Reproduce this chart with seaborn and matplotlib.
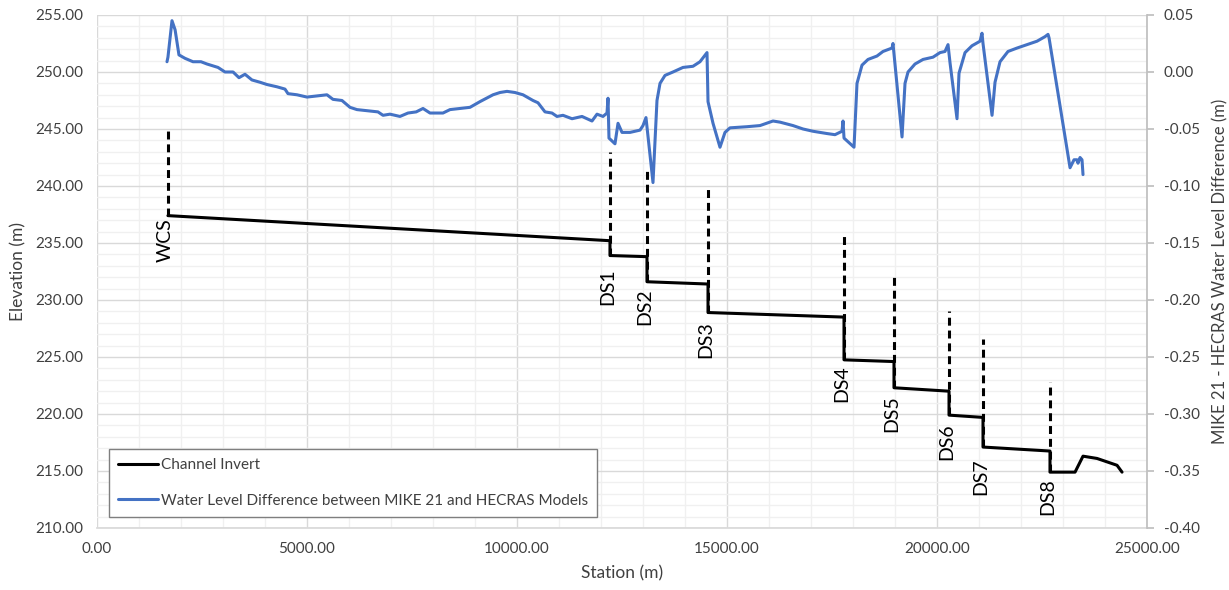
import numpy as np
import pandas as pd
import seaborn as sns
import matplotlib.pyplot as plt
from matplotlib.ticker import MultipleLocator, FormatStrFormatter

sns.set_theme(style='white')
plt.rcParams['font.family'] = ['Lato', 'DejaVu Sans']

# Channel invert profile (station m, elevation m)
invert_station = [1690, 12214, 12214, 13095, 13095, 14548, 14548, 17786, 17786,
                  18976, 18976, 20286, 20286, 21095, 21095, 22690, 22690, 23286,
                  23476, 23810, 24048, 24286, 24405]
invert_elev = [237.4, 235.2, 233.9, 233.8, 231.6, 231.4, 228.9, 228.5, 224.75,
               224.6, 222.3, 222.0, 219.9, 219.7, 217.1, 216.75, 214.9, 214.9,
               216.3, 216.1, 215.8, 215.5, 214.9]

# Structures
struct_names = ['WCS', 'DS1', 'DS2', 'DS3', 'DS4', 'DS5', 'DS6', 'DS7', 'DS8']
struct_station = [1690, 12214, 13095, 14548, 17786, 18976, 20286, 21095, 22690]
struct_top = [245.0, 243.0, 241.6, 240.1, 236.0, 232.0, 229.0, 226.6, 222.8]
struct_bottom = [237.4, 233.9, 231.6, 228.9, 224.75, 222.3, 219.9, 217.1, 214.9]
label_elev = [237.2, 232.8, 231.05, 228.1, 224.3, 221.6, 219.2, 216.1, 214.4]

# Water level difference MIKE 21 - HECRAS (m)
wl_station = [1667, 1690, 1786, 1860, 1952, 2095, 2286, 2476, 2619, 2881, 3048,
              3240, 3381, 3524, 3690, 3881, 4048, 4286, 4476, 4548, 4762, 5000,
              5238, 5476, 5619, 5833, 6024, 6190, 6429, 6690, 6810, 6976, 7214,
              7405, 7600, 7762, 7929, 8238, 8405, 8643, 8881, 9119, 9429, 9595,
              9762, 9952, 10143, 10381, 10500, 10667, 10833, 10952, 11095, 11310,
              11548, 11786, 11905, 12048, 12143, 12167, 12190, 12333, 12405,
              12500, 12690, 12929, 13000, 13071, 13238, 13333, 13405, 13524,
              13714, 13952, 14190, 14357, 14524, 14548, 14667, 14833, 14952,
              15071, 15476, 15786, 16095, 16262, 16571, 16810, 17048, 17381,
              17571, 17738, 17762, 17786, 18024, 18095, 18214, 18357, 18571,
              18714, 18929, 18952, 19167, 19238, 19310, 19476, 19667, 19905,
              20071, 20190, 20262, 20310, 20476, 20524, 20667, 20833, 21024,
              21071, 21095, 21310, 21381, 21500, 21690, 21905, 22143, 22381,
              22571, 22643, 22667, 23167, 23262, 23333, 23357, 23405, 23452,
              23476]
wl_diff = [0.009, 0.013, 0.045, 0.037, 0.015, 0.012, 0.009, 0.009, 0.007, 0.004,
           0.000, 0.000, -0.005, -0.002, -0.007, -0.009, -0.011, -0.013, -0.015,
           -0.019, -0.020, -0.022, -0.021, -0.020, -0.024, -0.025, -0.031, -0.033,
           -0.034, -0.035, -0.038, -0.037, -0.039, -0.036, -0.035, -0.032, -0.036,
           -0.036, -0.033, -0.032, -0.031, -0.026, -0.020, -0.018, -0.017, -0.018,
           -0.020, -0.025, -0.027, -0.035, -0.036, -0.039, -0.038, -0.041, -0.039,
           -0.043, -0.037, -0.039, -0.036, -0.023, -0.058, -0.063, -0.045, -0.053,
           -0.053, -0.051, -0.047, -0.040, -0.097, -0.025, -0.010, -0.003, 0.000,
           0.004, 0.005, 0.009, 0.017, -0.026, -0.045, -0.066, -0.053, -0.049,
           -0.048, -0.047, -0.043, -0.044, -0.047, -0.050, -0.052, -0.054, -0.055,
           -0.052, -0.043, -0.058, -0.066, -0.010, 0.006, 0.011, 0.014, 0.018,
           0.021, 0.025, -0.057, -0.010, 0.000, 0.007, 0.011, 0.013, 0.017, 0.018,
           0.024, 0.008, -0.041, -0.001, 0.017, 0.023, 0.027, 0.034, 0.025, -0.038,
           -0.009, 0.009, 0.018, 0.021, 0.024, 0.027, 0.031, 0.033, 0.030, -0.084,
           -0.077, -0.077, -0.080, -0.075, -0.077, -0.090]

text_color = '#404040'

fig, ax = plt.subplots(figsize=(12.29, 5.9), dpi=100)
fig.subplots_adjust(left=0.0789, right=0.9333, top=0.9746, bottom=0.1051)
ax2 = ax.twinx()

# Channel invert and structures on elevation axis
sns.lineplot(x=invert_station, y=invert_elev, ax=ax, color='black', lw=2.2,
             sort=False, estimator=None)
ax.vlines(struct_station, struct_bottom, struct_top, colors='black', lw=2.2,
          linestyles=(0, (2.6, 1.6)))
for name, st, ly in zip(struct_names, struct_station, label_elev):
    ax.text(st - 60, ly, name, rotation=90, ha='center', va='top',
            fontsize=14, color='black')

# Water level difference on secondary axis
sns.lineplot(x=wl_station, y=wl_diff, ax=ax2, color='#4472C4', lw=2.2,
             sort=False, estimator=None)

ax.set_xlim(0, 25000)
ax.set_ylim(210, 255)
ax2.set_ylim(-0.40, 0.05)

ax.xaxis.set_major_locator(MultipleLocator(5000))
ax.xaxis.set_minor_locator(MultipleLocator(1000))
ax.yaxis.set_major_locator(MultipleLocator(5))
ax.yaxis.set_minor_locator(MultipleLocator(1))
ax.xaxis.set_major_formatter(FormatStrFormatter('%.2f'))
ax.yaxis.set_major_formatter(FormatStrFormatter('%.2f'))
ax2.yaxis.set_major_locator(MultipleLocator(0.05))
ax2.yaxis.set_major_formatter(FormatStrFormatter('%.2f'))

ax.grid(which='major', color='#d9d9d9', lw=1)
ax.grid(which='minor', color='#f0f0f0', lw=1)
ax.set_axisbelow(True)
ax2.grid(False)

ax.tick_params(axis='both', which='both', length=0, labelsize=11,
               labelcolor=text_color)
ax.tick_params(axis='y', pad=10)
ax.tick_params(axis='x', pad=10)
ax2.tick_params(axis='y', which='major', length=5, color='#bfbfbf',
                labelsize=11, labelcolor=text_color, pad=7)
ax2.tick_params(axis='y', which='minor', length=0)

for s in ['left', 'top', 'right']:
    ax.spines[s].set_visible(False)
ax.spines['bottom'].set_color('#d9d9d9')
for s in ['left', 'top', 'bottom']:
    ax2.spines[s].set_visible(False)
ax2.spines['right'].set_color('#bfbfbf')

ax.set_xlabel('Station (m)', fontsize=12.5, color=text_color, labelpad=7)
ax.set_ylabel('Elevation (m)', fontsize=12.5, color=text_color, labelpad=6)
ax2.set_ylabel('MIKE 21 - HECRAS Water Level Difference (m)', fontsize=12,
               color=text_color, labelpad=9)

handles = [ax.get_lines()[0], ax2.get_lines()[0]]
labels = ['Channel Invert',
          'Water Level Difference between MIKE 21 and HECRAS Models']
leg = ax2.legend(handles, labels, loc='lower left',
                 bbox_to_anchor=(0.0114, 0.0214), fontsize=11,
                 frameon=True, fancybox=False, framealpha=1,
                 edgecolor='#7f7f7f', handlelength=2.6, handletextpad=0.2,
                 labelspacing=1.4, borderpad=0.6, borderaxespad=0)
for t in leg.get_texts():
    t.set_color(text_color)
leg.get_frame().set_linewidth(1)

fig.savefig('out.png', dpi=100)
